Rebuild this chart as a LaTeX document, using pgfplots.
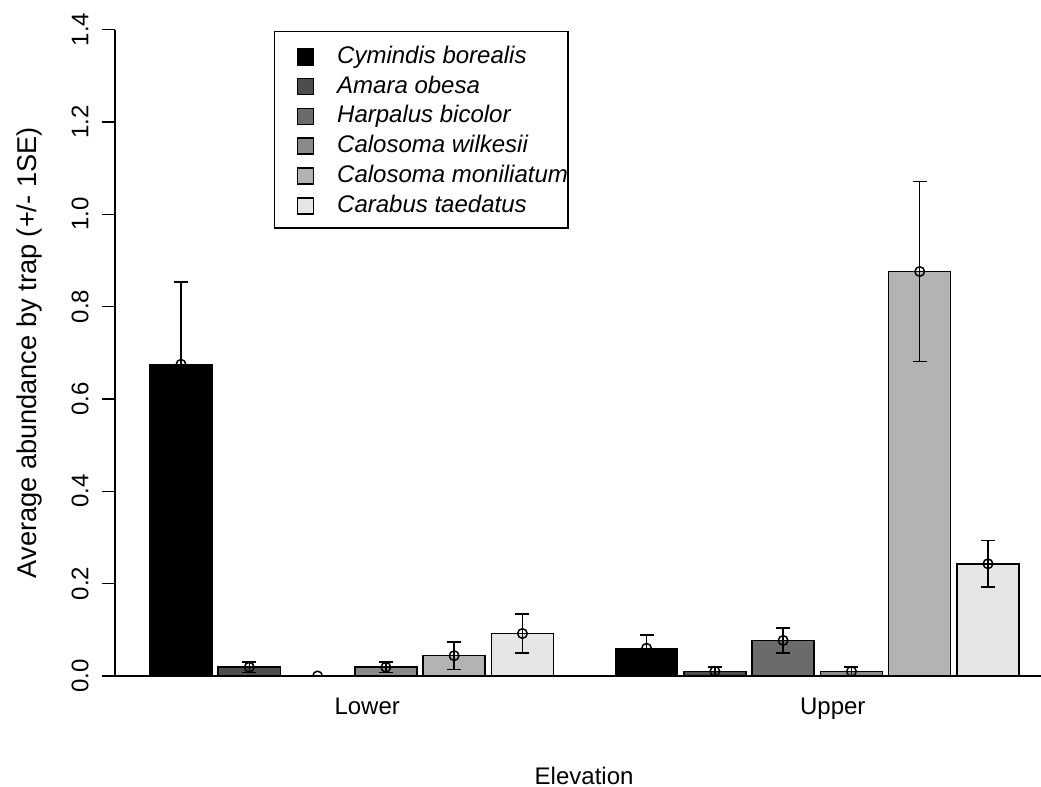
\documentclass[border=0pt]{standalone}
\usepackage{fontspec}
\setmainfont{Liberation Sans}
\usepackage{pgfplots}
\pgfplotsset{compat=1.18}

% grey shades of the six species
\definecolor{cA}{HTML}{000000}
\definecolor{cB}{HTML}{4D4D4D}
\definecolor{cC}{HTML}{6B6B6B}
\definecolor{cD}{HTML}{8A8A8A}
\definecolor{cE}{HTML}{B3B3B3}
\definecolor{cF}{HTML}{E6E6E6}

\pgfplotsset{
  beetle/.style={
    ybar, bar width=1, bar shift=0pt,
    fill=#1, draw=black, line width=0.75bp,
    mark=o, mark size=2.4bp,
    mark options={fill=none, draw=black, line width=0.75bp},
    error bars/.cd, y dir=both, y explicit,
    error bar style={line width=0.75bp, black},
    error mark options={rotate=90, line width=0.75bp, black, mark size=3.5bp},
  },
}

\begin{document}
\begin{tikzpicture}[font=\fontsize{12bp}{14.4bp}\selectfont]
\begin{axis}[
    name=a, at={(0,0)}, anchor=south west,
    scale only axis, width=462.9bp, height=323.2bp,
    xmin=0.44, xmax=15.354, ymin=0, ymax=1.4,
    clip marker paths=true,
    axis lines*=left,
    axis line style={line width=0.75bp, black},
    tick style={line width=0.75bp, black},
    tick align=outside, major tick length=6.8bp,
    ytick={0,0.2,0.4,0.6,0.8,1.0,1.2,1.4},
    yticklabels={0.0,0.2,0.4,0.6,0.8,1.0,1.2,1.4},
    yticklabel style={rotate=90, anchor=base},
    yticklabel shift=6.6bp,
    xtick={4.5,12},
    xticklabels={Lower,Upper},
    x tick style={draw=none},
    xticklabel style={anchor=base},
    xticklabel shift=12.6bp,
    ylabel={Average abundance by trap (+/- 1SE)},
    every axis y label/.style={at={([xshift=-42.9bp]axis description cs:0,0.5)}, rotate=90, anchor=center,
      font=\fontsize{13.6bp}{16bp}\selectfont},
    xlabel={Elevation},
    every axis x label/.style={at={([xshift=3bp, yshift=-54.3bp]axis description cs:0.5,0)}, anchor=base},
    legend style={at={(0.1715,0.998)}, anchor=north west, draw=black, line width=0.75bp,
      font=\fontsize{12bp}{14.4bp}\itshape\selectfont,
      inner xsep=0pt, inner ysep=5.3bp, row sep=1.9bp, column sep=11.5bp,
      nodes={inner sep=0pt, text height=10.5bp, text depth=2.5bp}},
    legend cell align=left,
    legend image code/.code={\path (0bp,0bp); \draw[#1, line width=0.75bp] (11bp,-4.8bp) rectangle (19bp,3.2bp);},
  ]

  \addplot[beetle=cA] coordinates {(1.5,0.675) +- (0,0.178) (9.0,0.060) +- (0,0.029)};
  \addplot[beetle=cB] coordinates {(2.6,0.019) +- (0,0.011) (10.1,0.010) +- (0,0.009)};
  \addplot[beetle=cC] coordinates {(3.7,0.000) +- (0,0.000) (11.2,0.077) +- (0,0.027)};
  \addplot[beetle=cD] coordinates {(4.8,0.019) +- (0,0.011) (12.3,0.010) +- (0,0.009)};
  \addplot[beetle=cE] coordinates {(5.9,0.044) +- (0,0.030) (13.4,0.876) +- (0,0.195)};
  \addplot[beetle=cF] coordinates {(7.0,0.092) +- (0,0.042) (14.5,0.243) +- (0,0.050)};

  \legend{Cymindis borealis, Amara obesa, Harpalus bicolor, Calosoma wilkesii,
    Calosoma moniliatum, Carabus taedatus}
\end{axis}
\pgfresetboundingbox
\path[use as bounding box] ([xshift=-57.6bp, yshift=-55.5bp]a.south west) rectangle ++(520.5bp,393.5bp);
\end{tikzpicture}
\end{document}
